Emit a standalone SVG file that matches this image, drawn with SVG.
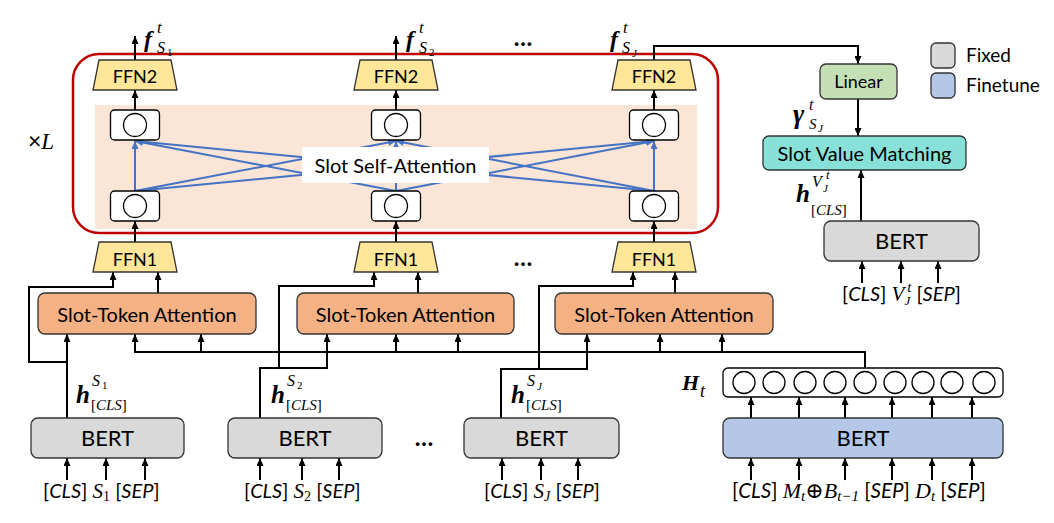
<svg xmlns="http://www.w3.org/2000/svg" width="1054" height="523" viewBox="0 0 1054 523">
<defs>
<marker id="ah" viewBox="0 0 8 7" refX="8" refY="3.5" markerWidth="8" markerHeight="7" markerUnits="userSpaceOnUse" orient="auto"><path d="M0,0 L8,3.5 L0,7 z" fill="#000"/></marker>
<marker id="bh" viewBox="0 0 8 7" refX="8" refY="3.5" markerWidth="8" markerHeight="7" markerUnits="userSpaceOnUse" orient="auto"><path d="M0,0 L8,3.5 L0,7 z" fill="#4472C4"/></marker>
</defs>
<style>
.sans{font-family:Lato,"Liberation Sans",sans-serif;fill:#000}
.math{font-family:"Liberation Serif","DejaVu Serif",serif;font-style:italic;fill:#000}
.up{font-style:normal}
.bold{font-weight:bold}
.nb{font-weight:normal}
.box{stroke:#333;stroke-width:1.3}
.ffn{fill:#FFE699;stroke:#333;stroke-width:1.3}
.cell{fill:#fff;stroke:#000;stroke-width:1.3}
.ln{fill:none;stroke:#000;stroke-width:2}
.arr{fill:none;stroke:#000;stroke-width:2;marker-end:url(#ah)}
.bl{stroke:#4472C4;stroke-width:2;fill:none;marker-end:url(#bh)}
.mid{text-anchor:middle}
</style>
<rect width="1054" height="523" fill="#fff"/>

<g id="layer-stack">
<rect x="73" y="54" width="645" height="179" rx="26" fill="#fff" stroke="#C00000" stroke-width="2.5"/>
<rect x="95" y="105" width="602" height="124" fill="#FBE5D6"/>
</g>

<g id="connectors">
<path class="bl" d="M135 191 L135 141"/>
<path class="bl" d="M135 191 L396 141"/>
<path class="bl" d="M135 191 L654 141"/>
<path class="bl" d="M396 191 L135 141"/>
<path class="bl" d="M396 191 L396 141"/>
<path class="bl" d="M396 191 L654 141"/>
<path class="bl" d="M654 191 L135 141"/>
<path class="bl" d="M654 191 L396 141"/>
<path class="bl" d="M654 191 L654 141"/>

<path class="arr" d="M135 60 V36"/>
<path class="arr" d="M396 60 V36"/>
<path class="arr" d="M654 60 V46 H858 V64"/>
<path class="arr" d="M135 110 V90"/>
<path class="arr" d="M396 110 V90"/>
<path class="arr" d="M654 110 V90"/>
<path class="arr" d="M135 242 V221"/>
<path class="arr" d="M396 242 V221"/>
<path class="arr" d="M654 242 V221"/>
<path class="arr" d="M158 293 V272"/>
<path class="arr" d="M418 293 V272"/>
<path class="arr" d="M675 293 V272"/>
<path class="arr" d="M67 418 V334"/>
<path class="arr" d="M67 362 H29 V287 H113 V272"/>
<path class="arr" d="M260 418 V368 H327 V334"/>
<path class="arr" d="M279 368 V286 H374 V272"/>
<path class="arr" d="M501 418 V369 H587 V334"/>
<path class="arr" d="M539 369 V286 H633 V272"/>
<path class="ln" d="M135 352 H865 V368"/>
<path class="arr" d="M135 353 V334"/>
<path class="arr" d="M201 352 V334"/>
<path class="arr" d="M396 352 V334"/>
<path class="arr" d="M458 352 V334"/>
<path class="arr" d="M660 352 V334"/>
<path class="arr" d="M722 352 V334"/>
<path class="arr" d="M67 480 V458"/>
<path class="arr" d="M106 480 V458"/>
<path class="arr" d="M145 480 V458"/>
<path class="arr" d="M260 480 V458"/>
<path class="arr" d="M302 480 V458"/>
<path class="arr" d="M339 480 V458"/>
<path class="arr" d="M502 480 V458"/>
<path class="arr" d="M541 480 V458"/>
<path class="arr" d="M578 480 V458"/>
<path class="arr" d="M751 480 V458"/>
<path class="arr" d="M799 480 V458"/>
<path class="arr" d="M845 480 V458"/>
<path class="arr" d="M892 480 V458"/>
<path class="arr" d="M932 480 V458"/>
<path class="arr" d="M972 480 V458"/>
<path class="arr" d="M751 418 V397"/>
<path class="arr" d="M799 418 V397"/>
<path class="arr" d="M845 418 V397"/>
<path class="arr" d="M892 418 V397"/>
<path class="arr" d="M932 418 V397"/>
<path class="arr" d="M972 418 V397"/>
<path class="arr" d="M862 283 V261"/>
<path class="arr" d="M901 283 V261"/>
<path class="arr" d="M938 283 V261"/>
<path class="arr" d="M861 221 V170"/>
<path class="arr" d="M858 99 V136"/>
</g>

<g id="self-attn-label">
<rect x="302" y="147" width="187" height="36" fill="#fff"/>
<text class="sans mid" x="395.5" y="173" font-size="20">Slot Self-Attention</text>
</g>

<g id="cells">
<rect class="cell" x="110.5" y="110" width="49" height="30" rx="4"/><circle class="cell" cx="135" cy="125" r="11.5"/>
<rect class="cell" x="371.5" y="110" width="49" height="30" rx="4"/><circle class="cell" cx="396" cy="125" r="11.5"/>
<rect class="cell" x="629.5" y="110" width="49" height="30" rx="4"/><circle class="cell" cx="654" cy="125" r="11.5"/>
<rect class="cell" x="110.5" y="191" width="49" height="30" rx="4"/><circle class="cell" cx="135" cy="206" r="11.5"/>
<rect class="cell" x="371.5" y="191" width="49" height="30" rx="4"/><circle class="cell" cx="396" cy="206" r="11.5"/>
<rect class="cell" x="629.5" y="191" width="49" height="30" rx="4"/><circle class="cell" cx="654" cy="206" r="11.5"/>
</g>

<g id="ffn2">
<polygon class="ffn" points="99,60 171,60 177,90 93,90"/><text class="sans mid" x="135" y="83" font-size="18">FFN2</text>
<polygon class="ffn" points="360,60 432,60 438,90 354,90"/><text class="sans mid" x="396" y="83" font-size="18">FFN2</text>
<polygon class="ffn" points="618,60 690,60 696,90 612,90"/><text class="sans mid" x="654" y="83" font-size="18">FFN2</text>
</g>

<g id="ffn1">
<polygon class="ffn" points="99,242 171,242 177,272 93,272"/><text class="sans mid" x="135" y="266" font-size="18">FFN1</text>
<polygon class="ffn" points="360,242 432,242 438,272 354,272"/><text class="sans mid" x="396" y="266" font-size="18">FFN1</text>
<polygon class="ffn" points="618,242 690,242 696,272 612,272"/><text class="sans mid" x="654" y="266" font-size="18">FFN1</text>
</g>

<g id="slot-token-attention">
<rect class="box" x="38" y="293" width="218" height="41" rx="7" fill="#F4B183"/><text class="sans mid" x="147" y="322" font-size="20">Slot-Token Attention</text>
<rect class="box" x="297" y="293" width="217" height="41" rx="7" fill="#F4B183"/><text class="sans mid" x="405.5" y="322" font-size="20">Slot-Token Attention</text>
<rect class="box" x="555" y="293" width="218" height="41" rx="7" fill="#F4B183"/><text class="sans mid" x="664" y="322" font-size="20">Slot-Token Attention</text>
</g>

<g id="bert-slots">
<rect class="box" x="31" y="418" width="153" height="40" rx="7" fill="#D9D9D9"/><text class="sans mid" x="107.5" y="446" font-size="22">BERT</text>
<rect class="box" x="228" y="418" width="154" height="40" rx="7" fill="#D9D9D9"/><text class="sans mid" x="305" y="446" font-size="22">BERT</text>
<rect class="box" x="464" y="418" width="155" height="40" rx="7" fill="#D9D9D9"/><text class="sans mid" x="541.5" y="446" font-size="22">BERT</text>
</g>

<g id="bert-context">
<rect class="box" x="723" y="418" width="280" height="40" rx="7" fill="#B4C7E7"/><text class="sans mid" x="863" y="446" font-size="22">BERT</text>
</g>

<g id="Ht">
<rect class="cell" x="723" y="368" width="280" height="29" rx="5"/>
<circle class="cell" cx="744" cy="382.5" r="11"/>
<circle class="cell" cx="774" cy="382.5" r="11"/>
<circle class="cell" cx="805" cy="382.5" r="11"/>
<circle class="cell" cx="835" cy="382.5" r="11"/>
<circle class="cell" cx="865" cy="382.5" r="11"/>
<circle class="cell" cx="895" cy="382.5" r="11"/>
<circle class="cell" cx="923" cy="382.5" r="11"/>
<circle class="cell" cx="952" cy="382.5" r="11"/>
<circle class="cell" cx="984" cy="382.5" r="11"/>
<text class="math bold" font-size="22"><tspan x="682" y="390">H</tspan><tspan class="nb" x="700" y="397" font-size="18">t</tspan></text>
</g>

<g id="bert-value">
<rect class="box" x="824" y="221" width="155" height="40" rx="7" fill="#D9D9D9"/><text class="sans mid" x="901.5" y="249" font-size="22">BERT</text>
</g>

<g id="slot-value-matching">
<rect class="box" x="763" y="136" width="203" height="34" rx="6" fill="#88E1D9"/><text class="sans mid" x="864.5" y="161" font-size="20">Slot Value Matching</text>
</g>

<g id="linear">
<rect class="box" x="820" y="64" width="77" height="35" rx="6" fill="#C5E0B4"/><text class="sans mid" x="858.5" y="88" font-size="18">Linear</text>
</g>

<g id="legend">
<rect class="box" x="931" y="43" width="24" height="25" rx="5" fill="#D9D9D9"/><text class="sans" x="966" y="62" font-size="19">Fixed</text>
<rect class="box" x="931" y="73" width="24" height="25" rx="5" fill="#B4C7E7"/><text class="sans" x="966" y="92" font-size="19">Finetune</text>
</g>

<g id="labels">
<text class="sans" x="28" y="149" font-size="23">×<tspan class="math" font-size="23">L</tspan></text>
<text class="math bold" font-size="24"><tspan x="144" y="47">f</tspan><tspan class="nb" x="157" y="33" font-size="17">t</tspan><tspan class="nb" x="157" y="53" font-size="16">S</tspan><tspan class="nb up" x="167" y="56" font-size="11">1</tspan></text>
<text class="math bold" font-size="24"><tspan x="406" y="47">f</tspan><tspan class="nb" x="419" y="33" font-size="17">t</tspan><tspan class="nb" x="419" y="53" font-size="16">S</tspan><tspan class="nb up" x="429" y="56" font-size="11">2</tspan></text>
<text class="math bold" font-size="24"><tspan x="610" y="47">f</tspan><tspan class="nb" x="623" y="33" font-size="17">t</tspan><tspan class="nb" x="622" y="53" font-size="16">S</tspan><tspan class="nb" x="632" y="57" font-size="11">J</tspan></text>
<text class="sans bold mid" x="523" y="46" font-size="24">…</text>
<text class="sans bold mid" x="523" y="266" font-size="24">…</text>
<text class="sans bold mid" x="424" y="446" font-size="24">…</text>
<text class="math bold" font-size="25"><tspan x="76" y="403">h</tspan><tspan class="nb" x="92" y="386" font-size="16">S</tspan><tspan class="nb up" x="102" y="389" font-size="11">1</tspan><tspan class="nb up" x="91" y="410" font-size="15">[</tspan><tspan class="nb" font-size="15">CLS</tspan><tspan class="nb up" font-size="15">]</tspan></text>
<text class="math bold" font-size="25"><tspan x="271" y="403">h</tspan><tspan class="nb" x="287" y="386" font-size="16">S</tspan><tspan class="nb up" x="297" y="389" font-size="11">2</tspan><tspan class="nb up" x="286" y="410" font-size="15">[</tspan><tspan class="nb" font-size="15">CLS</tspan><tspan class="nb up" font-size="15">]</tspan></text>
<text class="math bold" font-size="25"><tspan x="511" y="403">h</tspan><tspan class="nb" x="527" y="386" font-size="16">S</tspan><tspan class="nb" x="537" y="390" font-size="11">J</tspan><tspan class="nb up" x="526" y="410" font-size="15">[</tspan><tspan class="nb" font-size="15">CLS</tspan><tspan class="nb up" font-size="15">]</tspan></text>
<text class="math bold" font-size="25"><tspan x="796" y="202">h</tspan><tspan class="nb" x="812" y="187" font-size="16">V</tspan><tspan class="nb" x="823" y="192" font-size="11">J</tspan><tspan class="nb" x="826" y="179" font-size="13">t</tspan><tspan class="nb up" x="811" y="215" font-size="15">[</tspan><tspan class="nb" font-size="15">CLS</tspan><tspan class="nb up" font-size="15">]</tspan></text>
<text class="math bold" font-size="27"><tspan x="793" y="123">γ</tspan><tspan class="nb" x="809" y="110" font-size="16">t</tspan><tspan class="nb" x="809" y="129" font-size="15">S</tspan><tspan class="nb" x="818" y="132" font-size="11">J</tspan></text>
<text class="sans" x="43" y="498" font-size="20">[<tspan font-style="italic">CLS</tspan>] <tspan class="math" font-size="21">S</tspan><tspan class="math up" font-size="14" dy="3">1</tspan><tspan dy="-3"> [</tspan><tspan font-style="italic">SEP</tspan>]</text>
<text class="sans" x="244" y="498" font-size="20">[<tspan font-style="italic">CLS</tspan>] <tspan class="math" font-size="21">S</tspan><tspan class="math up" font-size="14" dy="3">2</tspan><tspan dy="-3"> [</tspan><tspan font-style="italic">SEP</tspan>]</text>
<text class="sans" x="484" y="498" font-size="20">[<tspan font-style="italic">CLS</tspan>] <tspan class="math" font-size="21">S</tspan><tspan class="math" font-size="14" dy="3">J</tspan><tspan dy="-3"> [</tspan><tspan font-style="italic">SEP</tspan>]</text>
<text class="sans" x="732" y="498" font-size="20.5">[<tspan font-style="italic">CLS</tspan>] <tspan class="math" font-size="22">M</tspan><tspan class="math" font-size="15" dy="3">t</tspan><tspan class="math up" font-size="22" dy="-3">⊕</tspan><tspan class="math" font-size="22">B</tspan><tspan class="math" font-size="15" dy="3">t−1</tspan><tspan dy="-3"> [</tspan><tspan font-style="italic">SEP</tspan>] <tspan class="math" font-size="22">D</tspan><tspan class="math" font-size="15" dy="3">t</tspan><tspan dy="-3"> [</tspan><tspan font-style="italic">SEP</tspan>]</text>
<text class="sans" x="842" y="301" font-size="20">[<tspan font-style="italic">CLS</tspan>] <tspan class="math" font-size="21">V</tspan><tspan class="math" font-size="13" dy="4">J</tspan><tspan class="math" font-size="15" dx="-3" dy="-13">t</tspan><tspan dy="9"> [</tspan><tspan font-style="italic">SEP</tspan>]</text>
</g>
</svg>
